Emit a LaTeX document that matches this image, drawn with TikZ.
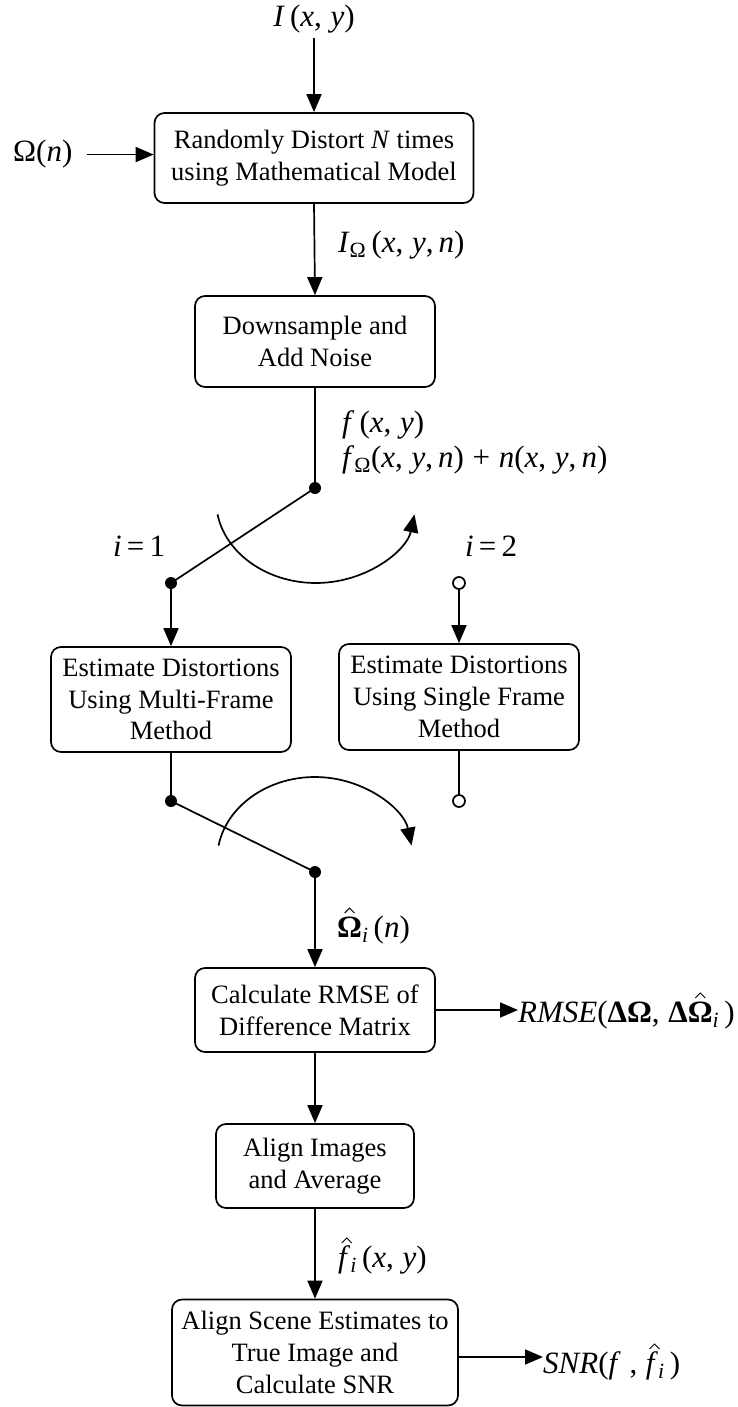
\documentclass[tikz,border=0pt]{standalone}
\usepackage{amsmath}
\usepackage{fontspec}
\setmainfont{Liberation Serif}
\usetikzlibrary{arrows.meta}
\newcommand\vi[1]{\textit{#1}}
% hat drawn as a small chevron: #1 horizontal shift, #2 raise, #3 base
\newcommand\hatt[3]{\ooalign{#3\cr\hidewidth\kern#1\raisebox{#2}{\tikz[x=1pt,y=1pt,baseline=0pt]\draw[line width=0.9pt, line join=miter] (0,0) -- (5,5) -- (10,0);}\hidewidth\cr}}
\newcommand\sep{\hspace{0.28em}}
\tikzset{
  box/.style={draw, line width=1.7pt, rounded corners=10pt, align=center, inner sep=0pt,
    font=\fontsize{26.5}{31.7}\selectfont},
  lab/.style={inner sep=0pt, font=\fontsize{31}{36}\selectfont},
  ln/.style={line width=1.7pt},
  arr/.style={line width=1.7pt, -{Triangle[length=18pt,width=15pt]}},
  dot/.style={circle, fill, inner sep=0pt, minimum size=12pt},
  odot/.style={circle, draw, fill=white, line width=1.7pt, inner sep=0pt, minimum size=12pt},
}
\begin{document}
\begin{tikzpicture}[x=1pt, y=-1pt]
\useasboundingbox (0,0) rectangle (738,1407);
% boxes
\node[box, minimum width=319pt, minimum height=90pt] (b1) at (314,158) {Randomly Distort \vi{N} times\\using Mathematical Model};
\node[box, minimum width=240pt, minimum height=91pt] (b2) at (315,341.5) {Downsample and\\Add Noise};
\node[box, minimum width=240pt, minimum height=105pt] (b3) at (171,699.5) {Estimate Distortions\\Using Multi-Frame\\Method};
\node[box, minimum width=240pt, minimum height=106pt] (b4) at (459,697) {Estimate Distortions\\Using Single Frame\\Method};
\node[box, minimum width=240pt, minimum height=84pt] (b5) at (315,1010) {Calculate RMSE of\\Difference Matrix};
\node[box, minimum width=198pt, minimum height=84pt] (b6) at (315,1166) {Align Images\\and Average};
\node[box, minimum width=286pt, minimum height=106pt] (b7) at (315,1352.5) {Align Scene Estimates to\\True Image and\\Calculate SNR};
% labels
\node[lab, anchor=base] (Ilab) at (314,27) {\vi{I}\,(\vi{x},\sep\vi{y})};
\node[lab, anchor=base west] (Olab) at (13,162) {Ω(\vi{n})};
\node[lab, anchor=base west] (IOm) at (338,252) {\vi{I}$_{\text{Ω}}$\,(\vi{x},\sep\vi{y},\,\vi{n})};
\node[lab, anchor=base west] (f1) at (342,432) {\vi{f}\,(\vi{x},\sep\vi{y})};
\node[lab, anchor=base west] (f2) at (342,467) {\vi{f}$_{\text{Ω}}$(\vi{x},\sep\vi{y},\,\vi{n})\sep+\sep\vi{n}(\vi{x},\sep\vi{y},\,\vi{n})};
\node[lab, anchor=base west] (i1) at (113,556) {\vi{i}\,=\,1};
\node[lab, anchor=base west] (i2) at (465,556) {\vi{i}\,=\,2};
\node[lab, anchor=base west] (Oh) at (337,937) {\hatt{0pt}{24pt}{\textbf{Ω}}$_{\text{\vi{i}}}$\,(\vi{n})};
\node[lab, anchor=base west] (rmse) at (518,1022) {\vi{RMSE}(\textbf{ΔΩ},\sep\textbf{Δ}\hatt{0pt}{24pt}{\textbf{Ω}}$_{\text{\vi{i}}}$\,)};
\node[lab, anchor=base west] (fh) at (338,1267) {\hatt{5pt}{24pt}{\vi{f}}$_{\text{\vi{i}}}$\,(\vi{x},\sep\vi{y})};
\node[lab, anchor=base west] (snr) at (543,1373) {\vi{SNR}(\vi{f}\sep,\sep\hatt{5pt}{24pt}{\vi{f}}$_{\text{\vi{i}}}$\,)};
% switch contacts
\node[dot] (d1) at (315,488) {};
\node[dot] (d2) at (171,583) {};
\node[odot] (o1) at (459,583) {};
\node[dot] (d3) at (171,801) {};
\node[odot] (o2) at (459,801) {};
\node[dot] (d4) at (315,872) {};
% connectors
\draw[arr, shorten <=4pt] (Ilab.south) -- (b1.north);
\draw[arr, shorten <=14pt] (Olab.east) -- (Olab.east -| b1.west);
\draw[arr] (b1.south) -- (b2.north);
\draw[ln] (b2.south) -- (d1);
\draw[ln] (d1.center) -- (d2.center);
\draw[arr] (d2) -- (b3.north);
\draw[arr] (o1) -- (b4.north);
\draw[ln] (b3.south) -- (d3);
\draw[ln] (b4.south) -- (o2);
\draw[ln] (d3.center) -- (d4.center);
\draw[arr] (d4) -- (b5.north);
\draw[arr] (b5.east) -- (b5.east -| rmse.west);
\draw[arr] (b5.south) -- (b6.north);
\draw[arr] (b6.south) -- (b7.north);
\draw[arr] ([yshift=-4.5pt]b7.east) -- ([yshift=-4.5pt]b7.east -| snr.west);
% switch arcs
\draw[arr] (217.5,514.4) arc[start angle=170, end angle=10, x radius=100, y radius=83];
\draw[arr] (218.5,845.6) arc[start angle=190, end angle=350, x radius=98, y radius=83];
\end{tikzpicture}
\end{document}
